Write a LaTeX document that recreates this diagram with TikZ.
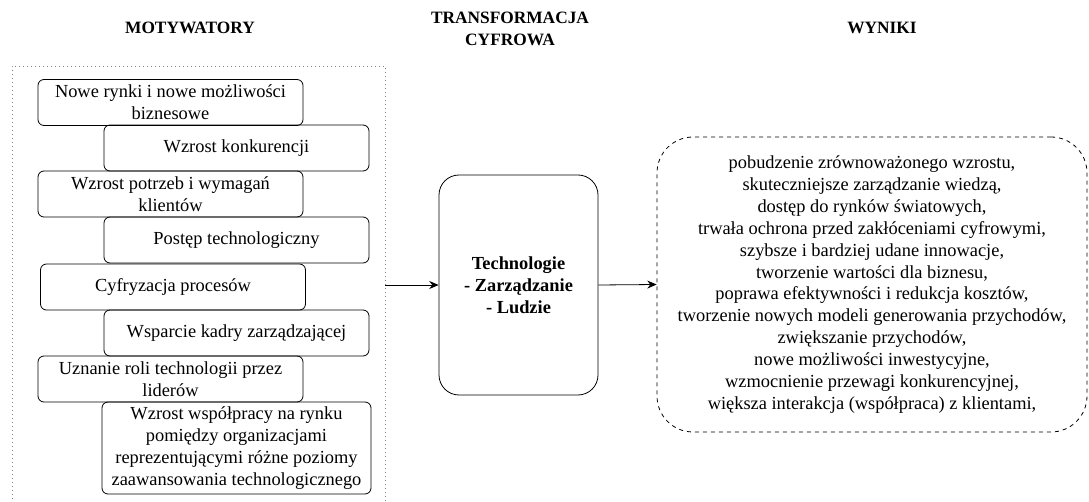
\documentclass[tikz,border=0pt]{standalone}
\usepackage{fontspec}
\setmainfont{Liberation Serif}
\usetikzlibrary{positioning, arrows.meta}

\tikzset{
  txt/.style={font=\fontsize{13.8}{16.4}\selectfont, align=center, inner sep=0pt},
  motbox/.style={txt, draw, line width=0.6pt, rounded corners=4.5pt,
    minimum width=198.75pt, minimum height=34.5pt},
  title/.style={font=\bfseries\fontsize{13}{16.4}\selectfont, align=center, inner sep=0pt},
  link/.style={-{Stealth[length=7pt,width=6pt]}, line width=0.6pt}
}

\begin{document}
\begin{tikzpicture}[x=0.75pt, y=-0.75pt]
  \clip (0,0) rectangle (1089,502);

  % column titles
  \node[title] (tmot) at (190,28) {MOTYWATORY};
  \node[title] (ttra) at (510,29) {TRANSFORMACJA\\CYFROWA};
  \node[title] (twyn) at (882,28) {WYNIKI};

  % dotted frame round the motivators
  \node[draw=gray, dash pattern=on 0.8pt off 2.2pt, line width=0.6pt,
    minimum width=279.75pt, minimum height=355.5pt, inner sep=0pt] (frame) at (198.5,303) {};

  % motivators, staggered left and right
  \node[motbox] (m1) at (170.5,102.5) {Nowe rynki i nowe możliwości\\biznesowe};
  \node[motbox] (m2) at (236.5,148) {Wzrost konkurencji};
  \node[motbox] (m3) at (170.5,194) {Wzrost potrzeb i wymagań\\klientów};
  \node[motbox] (m4) at (236.5,240) {Postęp technologiczny};
  \node[motbox] (m5) at (173,287) {Cyfryzacja procesów};
  \node[motbox] (m6) at (236.5,333) {Wsparcie kadry zarządzającej};
  \node[motbox] (m7) at (170.5,379) {Uznanie roli technologii przez\\liderów};
  \node[motbox, minimum width=201.75pt, minimum height=69pt] (m8) at (236.5,448)
    {Wzrost współpracy na rynku\\pomiędzy organizacjami\\reprezentującymi różne poziomy\\zaawansowania technologicznego};

  % core of the transformation
  \node[txt, font=\bfseries\fontsize{13.8}{16.4}\selectfont, draw, line width=0.6pt,
    rounded corners=15pt, minimum width=119.25pt, minimum height=165pt] (core) at (518.5,285)
    {Technologie\\- Zarządzanie\\- Ludzie};

  % results
  \node[txt, draw, dashed, line width=0.6pt, rounded corners=27pt,
    minimum width=322.5pt, minimum height=221.25pt] (res) at (872,284.5)
    {pobudzenie zrównoważonego wzrostu,\\
     skuteczniejsze zarządzanie wiedzą,\\
     dostęp do rynków światowych,\\
     trwała ochrona przed zakłóceniami cyfrowymi,\\
     szybsze i bardziej udane innowacje,\\
     tworzenie wartości dla biznesu,\\
     poprawa efektywności i redukcja kosztów,\\
     tworzenie nowych modeli generowania przychodów,\\
     zwiększanie przychodów,\\
     nowe możliwości inwestycyjne,\\
     wzmocnienie przewagi konkurencyjnej,\\
     większa interakcja (współpraca) z klientami,};

  \draw[link] (frame.east |- core.west) -- (core.west);
  \draw[link] (core.east) -- (res.west);
\end{tikzpicture}
\end{document}
